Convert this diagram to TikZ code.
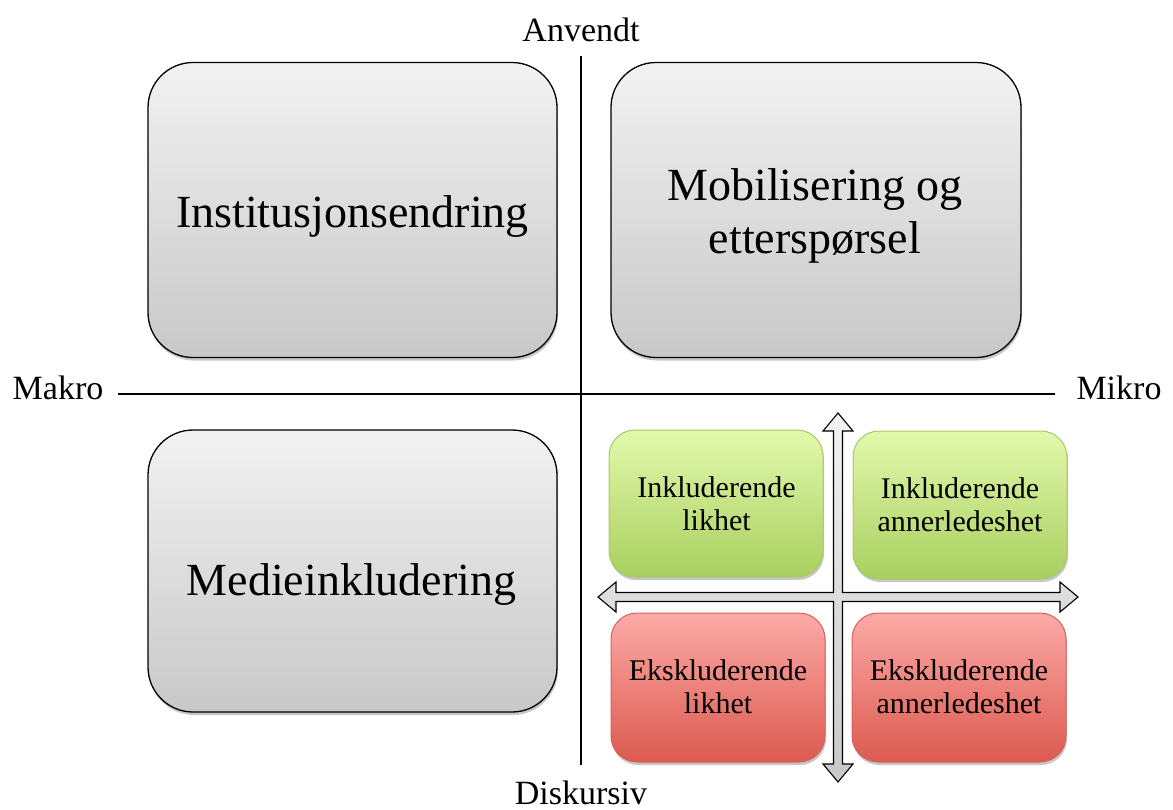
\documentclass[tikz,border=0pt]{standalone}
\usepackage{fontspec}
\setmainfont{Liberation Serif}
\usetikzlibrary{shadows}
\definecolor{grayTop}{HTML}{F2F2F2}
\definecolor{grayBot}{HTML}{C8C8C8}
\definecolor{greenTop}{HTML}{E2F9AC}
\definecolor{greenBot}{HTML}{A9CF5F}
\definecolor{greenLine}{HTML}{A6C96A}
\definecolor{redTop}{HTML}{FCAAA7}
\definecolor{redBot}{HTML}{DC5A4F}
\definecolor{redLine}{HTML}{D9605A}
\definecolor{arrowTop}{HTML}{F2F2F2}
\definecolor{arrowBot}{HTML}{C8C8C8}
\tikzset{
  boxshadow/.style={drop shadow={shadow xshift=1pt, shadow yshift=-3pt, fill=black, opacity=0.22}},
  bigbox/.style={draw=black, line width=1.3pt, rounded corners=45pt, top color=grayTop, bottom color=grayBot, inner sep=0pt, boxshadow},
  greenbox/.style={draw=greenLine, line width=1pt, rounded corners=26pt, top color=greenTop, bottom color=greenBot, inner sep=0pt, boxshadow},
  redbox/.style={draw=redLine, line width=1pt, rounded corners=26pt, top color=redTop, bottom color=redBot, inner sep=0pt, boxshadow},
  bigtext/.style={font=\fontsize{46}{53}\selectfont, align=center, anchor=base, inner sep=0pt},
  smalltext/.style={font=\fontsize{30}{33}\selectfont, align=center, anchor=base, inner sep=0pt},
  axistext/.style={font=\fontsize{34}{40}\selectfont, anchor=base, inner sep=0pt},
  axisline/.style={draw=black, line width=1.3pt},
  crossarrow/.style={draw=black, line width=1.1pt, top color=arrowTop, bottom color=arrowBot}
}
\begin{document}
\begin{tikzpicture}[x=1pt,y=-1pt]
\useasboundingbox (0,0) rectangle (1173,809);

% axes
\coordinate (vtop) at (581,56);
\coordinate (vbot) at (581,765);
\coordinate (hleft) at (118,394);
\coordinate (hright) at (1055,394);
\draw[axisline] (vtop) -- (vbot);
\draw[axisline] (hleft) -- (hright);

\node[axistext] (anvendt) at (581,41) {Anvendt};
\node[axistext] (diskursiv) at (581,804) {Diskursiv};
\node[axistext] (makro) at (58,399) {Makro};
\node[axistext] (mikro) at (1119,399) {Mikro};

% big boxes
\node[bigbox, minimum width=409pt, minimum height=295pt] (inst) at (352.5,210) {};
\node[bigbox, minimum width=410pt, minimum height=295pt] (mobil) at (816,210) {};
\node[bigbox, minimum width=409pt, minimum height=282pt] (medie) at (352.5,571) {};

\node[bigtext] (instT) at (352.5,227) {Institusjonsendring};
\node[bigtext] (mobilT) at (815,253) {Mobilisering og\\etterspørsel};
\node[bigtext] (medieT) at (351.5,595) {Medieinkludering};

% small boxes
\node[greenbox, minimum width=214pt, minimum height=147pt] (gl) at (716,503.5) {};
\node[greenbox, minimum width=214pt, minimum height=148pt] (gr) at (960,505) {};
\node[redbox, minimum width=214pt, minimum height=149pt] (rl) at (718,687.5) {};
\node[redbox, minimum width=214pt, minimum height=149pt] (rr) at (959,687.5) {};

% cross double arrow
\draw[crossarrow]
  (838,413) -- (853,431) -- (842.5,431) -- (842.5,592.5) -- (1060,592.5) -- (1060,582)
  -- (1078,597) -- (1060,612) -- (1060,601.5) -- (842.5,601.5) -- (842.5,764) -- (853,764)
  -- (838,782) -- (823,764) -- (833.5,764) -- (833.5,601.5) -- (616,601.5) -- (616,612)
  -- (598,597) -- (616,582) -- (616,592.5) -- (833.5,592.5) -- (833.5,431) -- (823,431) -- cycle;

\node[smalltext] (glT) at (716.5,530) {Inkluderende\\likhet};
\node[smalltext] (grT) at (960,531) {Inkluderende\\annerledeshet};
\node[smalltext] (rlT) at (718,713) {Ekskluderende\\likhet};
\node[smalltext] (rrT) at (959,713) {Ekskluderende\\annerledeshet};
\end{tikzpicture}
\end{document}
